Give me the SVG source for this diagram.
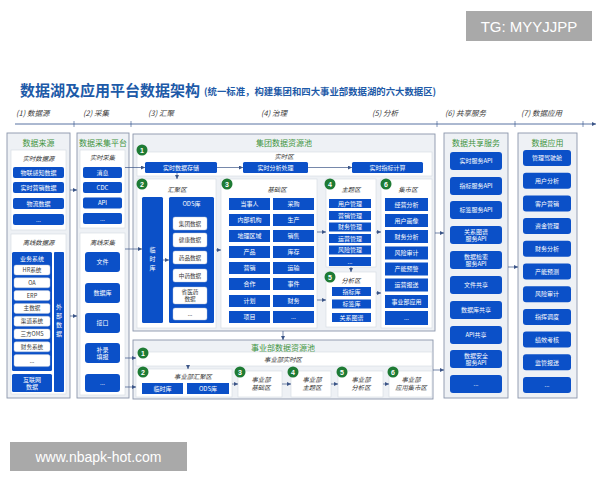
<svg xmlns="http://www.w3.org/2000/svg" width="600" height="480" viewBox="0 0 600 480">
<defs>
<style>
text{font-family:"Noto Sans CJK SC","Noto Sans",sans-serif}
.panel{fill:#eef1f5;stroke:#8a96ab;stroke-width:0.9}
.sub{fill:#ffffff;stroke:#d3d9e2;stroke-width:0.6}
.box{fill:#0b50c8}
.wbox{fill:#ffffff;stroke:#b8c3d6;stroke-width:0.4}
.bt{fill:#ffffff;font-size:6px;text-anchor:middle}
.wt{fill:#3a3a3a;font-size:5.6px;text-anchor:middle}
.gt{fill:#3f9440;font-size:8px;text-anchor:middle}
.it{fill:#333333;font-size:6.3px;font-style:italic;text-anchor:middle}
.hd{fill:#3a3a3a;font-size:7.5px;font-style:italic}
.num{fill:#1e7b34}
.nt{fill:#ffffff;font-size:7px;font-weight:bold;text-anchor:middle;font-family:"Liberation Sans",sans-serif}
.con{fill:none;stroke:#3b5587;stroke-width:0.7}
.wm{fill:#a9a9a9}
.wmt{fill:#ffffff;font-family:"Liberation Sans",sans-serif}
</style>
<marker id="ah" viewBox="0 0 6 6" refX="6" refY="3" markerWidth="4" markerHeight="4" markerUnits="userSpaceOnUse" orient="auto">
<path d="M0,0 L6,3 L0,6 z" fill="#3b5587"/>
</marker>
</defs>
<rect width="600" height="480" fill="#ffffff"/>

<!-- watermarks -->
<g id="wm-tg"><rect class="wm" x="466" y="11" width="126" height="30"/><text class="wmt" x="529" y="32" font-size="15" text-anchor="middle">TG: MYYJJPP</text></g>
<g id="wm-www"><rect class="wm" x="10" y="442" width="177" height="29"/><text class="wmt" x="98.5" y="461.5" font-size="14" text-anchor="middle">www.nbapk-hot.com</text></g>

<!-- title -->
<g id="title">
<text x="20" y="96" font-size="15" font-weight="bold" fill="#1d5aa8">数据湖及应用平台数据架构</text>
<text x="204" y="95" font-size="9.4" font-weight="bold" fill="#1d5aa8">(统一标准，构建集团和四大事业部数据湖的六大数据区)</text>
</g>
<g id="axis">
<text class="hd" x="16" y="116">(1) 数据源</text>
<text class="hd" x="83" y="116">(2) 采集</text>
<text class="hd" x="148" y="116">(3) 汇聚</text>
<text class="hd" x="261" y="116">(4) 治理</text>
<text class="hd" x="372" y="116">(5) 分析</text>
<text class="hd" x="445" y="116">(6) 共享服务</text>
<text class="hd" x="521" y="116">(7) 数据应用</text>
<line x1="15" y1="124" x2="596" y2="124" stroke="#2e4f8c" stroke-width="0.8" marker-end="url(#ah)"/>
<path d="M74,121 V127 M131,121 V127 M437,121 V127 M515,121 V127 M583,121 V127" stroke="#2e4f8c" stroke-width="0.6"/>
</g>

<!-- column 1 -->
<g id="src">
<rect class="panel" x="7" y="133" width="63" height="265"/>
<text class="gt" x="38.5" y="146">数据来源</text>
<rect class="sub" x="11" y="150" width="55" height="80"/>
<text class="it" x="38.5" y="161">实时数据源</text>
<rect class="box" x="13" y="167" width="51" height="11" rx="2"/><text class="bt" x="38.5" y="174.6">物联感知数据</text>
<rect class="box" x="13" y="182" width="51" height="11" rx="2"/><text class="bt" x="38.5" y="189.6">实时营销数据</text>
<rect class="box" x="13" y="198" width="51" height="11" rx="2"/><text class="bt" x="38.5" y="205.6">物流数据</text>
<rect class="box" x="13" y="214" width="51" height="11" rx="2"/><text class="bt" x="38.5" y="221.6">...</text>
<rect class="sub" x="11" y="234" width="55" height="160"/>
<text class="it" x="38.5" y="245">离线数据源</text>
<rect class="box" x="12" y="252" width="40" height="119" rx="1.5"/><text class="bt" x="32" y="261">业务系统</text>
<rect class="wbox" x="14" y="265" width="36" height="10" rx="2"/><text class="wt" x="32" y="272">HR系统</text>
<rect class="wbox" x="14" y="277.8" width="36" height="10" rx="2"/><text class="wt" x="32" y="284.8">OA</text>
<rect class="wbox" x="14" y="290.6" width="36" height="10" rx="2"/><text class="wt" x="32" y="297.6">ERP</text>
<rect class="wbox" x="14" y="303.4" width="36" height="10" rx="2"/><text class="wt" x="32" y="310.4">主数据</text>
<rect class="wbox" x="14" y="316.2" width="36" height="10" rx="2"/><text class="wt" x="32" y="323.2">渠道系统</text>
<rect class="wbox" x="14" y="329" width="36" height="10" rx="2"/><text class="wt" x="32" y="336">三方OMS</text>
<rect class="wbox" x="14" y="341.8" width="36" height="10" rx="2"/><text class="wt" x="32" y="348.8">财务系统</text>
<rect class="wbox" x="14" y="354.6" width="36" height="12" rx="2"/><text class="wt" x="32" y="362.6">...</text>
<rect class="box" x="12" y="374" width="40" height="18" rx="1.5"/><text class="bt" x="32" y="381.5">互联网</text><text class="bt" x="32" y="389">数据</text>
<rect class="box" x="54" y="252" width="10" height="140" rx="1"/>
<text class="bt" x="59" y="309">外</text><text class="bt" x="59" y="318">部</text><text class="bt" x="59" y="327">数</text><text class="bt" x="59" y="336">据</text>
</g>

<!-- column 2 -->
<g id="collect">
<rect class="panel" x="77" y="133" width="52" height="265"/>
<text class="gt" x="103" y="146">数据采集平台</text>
<rect class="sub" x="80" y="150" width="45" height="78"/>
<text class="it" x="102.5" y="160">实时采集</text>
<rect class="box" x="83" y="167" width="39" height="11" rx="2"/><text class="bt" x="102.5" y="174.6">消息</text>
<rect class="box" x="83" y="182" width="39" height="11" rx="2"/><text class="bt" x="102.5" y="189.6">CDC</text>
<rect class="box" x="83" y="197.5" width="39" height="11" rx="2"/><text class="bt" x="102.5" y="205.1">API</text>
<rect class="box" x="83" y="213" width="39" height="11" rx="2"/><text class="bt" x="102.5" y="220.6">...</text>
<rect class="sub" x="80" y="233" width="45" height="162"/>
<text class="it" x="102.5" y="245">离线采集</text>
<rect class="box" x="85" y="252" width="35" height="20" rx="3"/><text class="bt" x="102.5" y="264">文件</text>
<rect class="box" x="85" y="283" width="35" height="20" rx="3"/><text class="bt" x="102.5" y="295">数据库</text>
<rect class="box" x="85" y="313" width="35" height="20" rx="3"/><text class="bt" x="102.5" y="325">接口</text>
<rect class="box" x="85" y="343" width="35" height="20" rx="3"/><text class="bt" x="102.5" y="351.5">补录</text><text class="bt" x="102.5" y="359">填报</text>
<rect class="box" x="85" y="374" width="35" height="18" rx="3"/><text class="bt" x="102.5" y="385">...</text>
</g>

<!-- group pool -->
<g id="group-pool">
<rect class="panel" x="133" y="134" width="302" height="197"/>
<text class="gt" x="284" y="146">集团数据资源池</text>
</g>
<g id="g-rt">
<rect class="sub" x="137" y="152" width="295" height="24"/>
<circle class="num" cx="142" cy="150" r="5.5"/><text class="nt" x="142" y="152.5">1</text>
<text class="it" x="284" y="159">实时区</text>
<rect class="box" x="145" y="162" width="72" height="11" rx="1.5"/><text class="bt" x="181" y="169.6">实时数据存储</text>
<rect class="box" x="243" y="162" width="65" height="11" rx="1.5"/><text class="bt" x="275.5" y="169.6">实时分析处理</text>
<rect class="box" x="352" y="162" width="71" height="11" rx="1.5"/><text class="bt" x="387.5" y="169.6">实时指标计算</text>
</g>
<g id="g-agg">
<rect class="sub" x="137" y="179" width="79" height="149"/>
<circle class="num" cx="142" cy="184" r="5.5"/><text class="nt" x="142" y="186.5">2</text>
<text class="it" x="177" y="192">汇聚区</text>
<rect class="box" x="142" y="197" width="21" height="126" rx="1.5"/>
<text class="bt" x="152.5" y="252">临</text><text class="bt" x="152.5" y="261">时</text><text class="bt" x="152.5" y="270">库</text>
<rect class="box" x="169" y="197" width="45" height="126" rx="1.5"/><text class="bt" x="191.5" y="206">ODS库</text>
<rect class="wbox" x="173" y="217" width="34" height="13" rx="2"/><text class="wt" x="190" y="225.5">集团数据</text>
<rect class="wbox" x="173" y="233" width="34" height="14" rx="2"/><text class="wt" x="190" y="242">健康数据</text>
<rect class="wbox" x="173" y="251" width="34" height="13" rx="2"/><text class="wt" x="190" y="259.5">药品数据</text>
<rect class="wbox" x="173" y="269" width="34" height="13" rx="2"/><text class="wt" x="190" y="277.5">中药数据</text>
<rect class="wbox" x="173" y="287" width="34" height="17" rx="2"/><text class="wt" x="190" y="294">省医药</text><text class="wt" x="190" y="301">数据</text>
<rect class="wbox" x="173" y="308" width="34" height="12" rx="2"/><text class="wt" x="190" y="315.5">...</text>
</g>
<g id="g-base">
<rect class="sub" x="221" y="179" width="96" height="149"/>
<circle class="num" cx="227" cy="184" r="5.5"/><text class="nt" x="227" y="186.5">3</text>
<text class="it" x="277" y="192">基础区</text>
<rect class="box" x="229" y="198" width="41" height="12"/><text class="bt" x="249.5" y="206">当事人</text>
<rect class="box" x="229" y="214" width="41" height="12"/><text class="bt" x="249.5" y="222">内部机构</text>
<rect class="box" x="229" y="230" width="41" height="12"/><text class="bt" x="249.5" y="238">地理区域</text>
<rect class="box" x="229" y="246" width="41" height="12"/><text class="bt" x="249.5" y="254">产品</text>
<rect class="box" x="229" y="262" width="41" height="12"/><text class="bt" x="249.5" y="270">营销</text>
<rect class="box" x="229" y="278" width="41" height="12"/><text class="bt" x="249.5" y="286">合作</text>
<rect class="box" x="229" y="295" width="41" height="12"/><text class="bt" x="249.5" y="303">计划</text>
<rect class="box" x="229" y="311" width="41" height="12"/><text class="bt" x="249.5" y="319">项目</text>
<rect class="box" x="273" y="198" width="41" height="12"/><text class="bt" x="293.5" y="206">采购</text>
<rect class="box" x="273" y="214" width="41" height="12"/><text class="bt" x="293.5" y="222">生产</text>
<rect class="box" x="273" y="230" width="41" height="12"/><text class="bt" x="293.5" y="238">销售</text>
<rect class="box" x="273" y="246" width="41" height="12"/><text class="bt" x="293.5" y="254">库存</text>
<rect class="box" x="273" y="262" width="41" height="12"/><text class="bt" x="293.5" y="270">运输</text>
<rect class="box" x="273" y="278" width="41" height="12"/><text class="bt" x="293.5" y="286">事件</text>
<rect class="box" x="273" y="295" width="41" height="12"/><text class="bt" x="293.5" y="303">财务</text>
<rect class="box" x="273" y="311" width="41" height="12"/><text class="bt" x="293.5" y="319">...</text>
</g>
<g id="g-theme">
<rect class="sub" x="326" y="179" width="50" height="88"/>
<circle class="num" cx="330" cy="184" r="5.5"/><text class="nt" x="330" y="186.5">4</text>
<text class="it" x="351" y="192">主题区</text>
<rect class="box" x="329" y="199" width="42" height="9"/><text class="bt" x="350" y="205.5">用户管理</text>
<rect class="box" x="329" y="211" width="42" height="9"/><text class="bt" x="350" y="217.5">营销管理</text>
<rect class="box" x="329" y="222.5" width="42" height="9"/><text class="bt" x="350" y="229">财务管理</text>
<rect class="box" x="329" y="234" width="42" height="9"/><text class="bt" x="350" y="240.5">运营管理</text>
<rect class="box" x="329" y="245.5" width="42" height="9"/><text class="bt" x="350" y="252">风险管理</text>
<rect class="box" x="329" y="257" width="42" height="9"/><text class="bt" x="350" y="263.5">...</text>
</g>
<g id="g-analysis">
<rect class="sub" x="326" y="272" width="50" height="55"/>
<circle class="num" cx="330" cy="277" r="5.5"/><text class="nt" x="330" y="279.5">5</text>
<text class="it" x="351" y="283">分析区</text>
<rect class="box" x="332" y="287" width="39" height="9"/><text class="bt" x="351.5" y="293.5">指标库</text>
<rect class="box" x="332" y="299.5" width="39" height="9"/><text class="bt" x="351.5" y="306">标签库</text>
<rect class="box" x="332" y="313" width="39" height="9"/><text class="bt" x="351.5" y="319.5">关系图谱</text>
</g>
<g id="g-mart">
<rect class="sub" x="381" y="179" width="51" height="149"/>
<circle class="num" cx="386" cy="184" r="5.5"/><text class="nt" x="386" y="186.5">6</text>
<text class="it" x="408" y="192">集市区</text>
<rect class="box" x="385" y="198" width="43" height="13"/><text class="bt" x="406.5" y="206.5">经营分析</text>
<rect class="box" x="385" y="214" width="43" height="13"/><text class="bt" x="406.5" y="222.5">用户画像</text>
<rect class="box" x="385" y="230" width="43" height="13"/><text class="bt" x="406.5" y="238.5">财务分析</text>
<rect class="box" x="385" y="246.5" width="43" height="13"/><text class="bt" x="406.5" y="255">风险审计</text>
<rect class="box" x="385" y="262.5" width="43" height="13"/><text class="bt" x="406.5" y="271">产能预警</text>
<rect class="box" x="385" y="278.5" width="43" height="13"/><text class="bt" x="406.5" y="287">运营报送</text>
<rect class="box" x="385" y="295" width="43" height="13"/><text class="bt" x="406.5" y="303.5">事业部应用</text>
<rect class="box" x="385" y="311" width="43" height="14"/><text class="bt" x="406.5" y="320">...</text>
</g>

<!-- division pool -->
<g id="div-pool">
<rect class="panel" x="133" y="340" width="300" height="59"/>
<text class="gt" x="283" y="350.5">事业部数据资源池</text>
</g>
<g id="d-rt">
<rect class="sub" x="136" y="352" width="296" height="14"/>
<circle class="num" cx="143" cy="353" r="5.5"/><text class="nt" x="143" y="355.5">1</text>
<text class="it" x="283" y="361.5">事业部实时区</text>
</g>
<g id="d-agg">
<rect class="sub" x="136" y="369" width="96" height="28"/>
<circle class="num" cx="143" cy="372" r="5.5"/><text class="nt" x="143" y="374.5">2</text>
<text class="it" x="193" y="378.5">事业部汇聚区</text>
<rect class="box" x="142" y="383" width="41" height="11"/><text class="bt" x="162.5" y="390.6">临时库</text>
<rect class="box" x="187" y="383" width="42" height="11"/><text class="bt" x="208" y="390.6">ODS库</text>
</g>
<g id="d-base">
<rect class="sub" x="238" y="371" width="44" height="26"/>
<circle class="num" cx="240" cy="372" r="5.5"/><text class="nt" x="240" y="374.5">3</text>
<text class="it" x="261" y="382">事业部</text><text class="it" x="261" y="390">基础区</text>
</g>
<g id="d-theme">
<rect class="sub" x="291" y="371" width="40" height="26"/>
<circle class="num" cx="293" cy="372" r="5.5"/><text class="nt" x="293" y="374.5">4</text>
<text class="it" x="312" y="382">事业部</text><text class="it" x="312" y="390">主题区</text>
</g>
<g id="d-analysis">
<rect class="sub" x="338" y="371" width="45" height="26"/>
<circle class="num" cx="342" cy="372" r="5.5"/><text class="nt" x="342" y="374.5">5</text>
<text class="it" x="361" y="382">事业部</text><text class="it" x="361" y="390">分析区</text>
</g>
<g id="d-mart">
<rect class="sub" x="389" y="371" width="43" height="26"/>
<circle class="num" cx="393" cy="372" r="5.5"/><text class="nt" x="393" y="374.5">6</text>
<text class="it" x="411" y="382">事业部</text><text class="it" x="411" y="390">应用集市区</text>
</g>

<!-- column 6 -->
<g id="share">
<rect class="panel" x="444" y="133" width="64" height="265"/>
<text class="gt" x="476" y="146">数据共享服务</text>
<rect class="box" x="450" y="152" width="52" height="18" rx="3"/><text class="bt" x="476" y="163">实时服务API</text>
<rect class="box" x="450" y="177" width="52" height="18" rx="3"/><text class="bt" x="476" y="188">指标服务API</text>
<rect class="box" x="450" y="201" width="52" height="18" rx="3"/><text class="bt" x="476" y="212">标签服务API</text>
<rect class="box" x="450" y="226" width="52" height="18" rx="3"/><text class="bt" x="476" y="233.5">关系图谱</text><text class="bt" x="476" y="241">服务API</text>
<rect class="box" x="450" y="251" width="52" height="18" rx="3"/><text class="bt" x="476" y="258.5">数据检索</text><text class="bt" x="476" y="266">服务API</text>
<rect class="box" x="450" y="276" width="52" height="18" rx="3"/><text class="bt" x="476" y="287">文件共享</text>
<rect class="box" x="450" y="301" width="52" height="18" rx="3"/><text class="bt" x="476" y="312">数据库共享</text>
<rect class="box" x="450" y="326" width="52" height="18" rx="3"/><text class="bt" x="476" y="337">API共享</text>
<rect class="box" x="450" y="350" width="52" height="18" rx="3"/><text class="bt" x="476" y="357.5">数据安全</text><text class="bt" x="476" y="365">服务API</text>
<rect class="box" x="450" y="375" width="52" height="18" rx="3"/><text class="bt" x="476" y="386">...</text>
</g>

<!-- column 7 -->
<g id="apps">
<rect class="panel" x="518" y="133" width="59" height="265"/>
<text class="gt" x="547.5" y="146">数据应用</text>
<rect class="box" x="523" y="150" width="48" height="16" rx="3"/><text class="bt" x="547" y="160.2">管理驾驶舱</text>
<rect class="box" x="523" y="172.7" width="48" height="16" rx="3"/><text class="bt" x="547" y="182.9">用户分析</text>
<rect class="box" x="523" y="195.4" width="48" height="16" rx="3"/><text class="bt" x="547" y="205.6">客户营销</text>
<rect class="box" x="523" y="218.1" width="48" height="16" rx="3"/><text class="bt" x="547" y="228.3">资金管理</text>
<rect class="box" x="523" y="240.8" width="48" height="16" rx="3"/><text class="bt" x="547" y="251">财务分析</text>
<rect class="box" x="523" y="263.5" width="48" height="16" rx="3"/><text class="bt" x="547" y="273.7">产能预测</text>
<rect class="box" x="523" y="286.2" width="48" height="16" rx="3"/><text class="bt" x="547" y="296.4">风险审计</text>
<rect class="box" x="523" y="308.9" width="48" height="16" rx="3"/><text class="bt" x="547" y="319.1">指挥调度</text>
<rect class="box" x="523" y="331.6" width="48" height="16" rx="3"/><text class="bt" x="547" y="341.8">绩效考核</text>
<rect class="box" x="523" y="354.3" width="48" height="16" rx="3"/><text class="bt" x="547" y="364.5">监管报送</text>
<rect class="box" x="523" y="377" width="48" height="16" rx="3"/><text class="bt" x="547" y="387.2">...</text>
</g>

<!-- connectors -->
<g id="connectors">
<line class="con" x1="70" y1="190" x2="77" y2="190" marker-end="url(#ah)"/>
<line class="con" x1="70" y1="316" x2="77" y2="316" marker-end="url(#ah)"/>
<line class="con" x1="125" y1="167.5" x2="145" y2="167.5" marker-end="url(#ah)"/>
<line class="con" x1="125" y1="249" x2="142" y2="249" marker-end="url(#ah)"/>
<line class="con" x1="125" y1="358" x2="136" y2="358" marker-end="url(#ah)"/>
<line class="con" x1="125" y1="387" x2="136" y2="387" marker-end="url(#ah)"/>
<line class="con" x1="217" y1="167.5" x2="243" y2="167.5" marker-end="url(#ah)"/>
<line class="con" x1="308" y1="167.5" x2="352" y2="167.5" marker-end="url(#ah)"/>
<line class="con" x1="177" y1="173" x2="177" y2="179" marker-end="url(#ah)"/>
<line class="con" x1="163" y1="260" x2="169" y2="260" marker-end="url(#ah)"/>
<line class="con" x1="216" y1="250" x2="221" y2="250" marker-end="url(#ah)"/>
<line class="con" x1="317" y1="232" x2="326" y2="232" marker-end="url(#ah)"/>
<line class="con" x1="317" y1="300" x2="326" y2="300" marker-end="url(#ah)"/>
<line class="con" x1="351" y1="267" x2="351" y2="272" marker-end="url(#ah)"/>
<line class="con" x1="376" y1="232" x2="381" y2="232" marker-end="url(#ah)"/>
<line class="con" x1="376" y1="293" x2="381" y2="293" marker-end="url(#ah)"/>
<line class="con" x1="283" y1="331" x2="283" y2="340" marker-end="url(#ah)"/>
<line class="con" x1="188" y1="366" x2="188" y2="369" marker-end="url(#ah)"/>
<line class="con" x1="232" y1="384" x2="238" y2="384" marker-end="url(#ah)"/>
<line class="con" x1="282" y1="384" x2="291" y2="384" marker-end="url(#ah)"/>
<line class="con" x1="331" y1="384" x2="338" y2="384" marker-end="url(#ah)"/>
<line class="con" x1="383" y1="384" x2="389" y2="384" marker-end="url(#ah)"/>
<line class="con" x1="435" y1="233" x2="444" y2="233" marker-end="url(#ah)"/>
<line class="con" x1="433" y1="370" x2="444" y2="370" marker-end="url(#ah)"/>
<line class="con" x1="508" y1="267" x2="518" y2="267" marker-end="url(#ah)"/>
</g>
</svg>
